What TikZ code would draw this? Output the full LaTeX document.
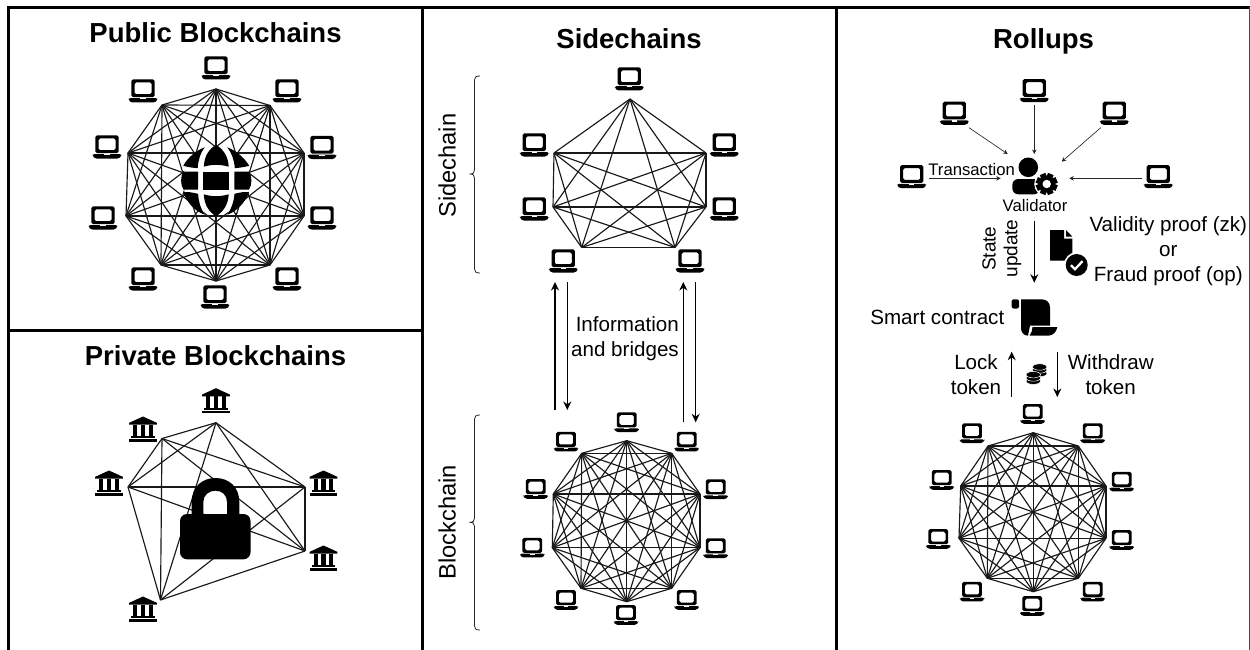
\documentclass[tikz,border=0pt]{standalone}
\usepackage{fontspec}
\setmainfont{Liberation Sans}
\usetikzlibrary{arrows.meta}
\tikzset{
  x=1pt,y=-1pt,
  frameline/.style={line width=3pt,black},
  edgeline/.style={line width=1.15pt,black!90},
  bracel/.style={line width=0.8pt,black!85},
  bigarrow/.style={line width=1.25pt,-{Stealth[length=8.5pt,width=8pt]}},
  thinarrow/.style={line width=0.65pt,black!85,-{Stealth[length=4.5pt,width=4.5pt]}},
  titletext/.style={inner sep=0,anchor=base,font=\fontsize{27.5}{30}\selectfont\bfseries},
  sidetext/.style={inner sep=0,anchor=base,rotate=90,font=\fontsize{23.7}{26}\selectfont},
  labeltext/.style={inner sep=0,font=\fontsize{20.6}{25.2}\selectfont,align=center},
  smalltext/.style={inner sep=0,anchor=base,font=\fontsize{16.7}{19}\selectfont},
  gap/.style={fill=black},
  laptop/.pic={
    \fill[even odd rule,rounded corners=1.6pt]
      (-11.6,-11.6) rectangle (11.6,6.1)
      (-8.5,-8.6) rectangle (8.5,3.2);
    \fill[rounded corners=1.5pt] (-14.4,7.1) -- (14.4,7.1) -- (14.4,9) -- (12,11.5) -- (-12,11.5) -- (-14.4,9) -- cycle;
    \fill[white] (-2.6,7.1) rectangle (2.6,8.3);
  },
  bank/.pic={
    \fill (0,-12.5) -- (13.8,-6.2) -- (13.8,-4.4) -- (-13.8,-4.4) -- (-13.8,-6.2) -- cycle;
    \fill (-9.9,-4.5) rectangle (-5.6,7.2);
    \fill (-2.1,-4.5) rectangle (2.1,7.2);
    \fill (5.6,-4.5) rectangle (9.9,7.2);
    \fill (-11.8,7.2) rectangle (11.8,9);
    \fill (-13.8,10.2) rectangle (13.8,12.5);
  }
}
\newcommand{\kgraph}[2]{%
  \foreach \a in {1,...,#2}{\foreach \b in {1,...,#2}{%
    \ifnum\a<\b \draw[edgeline] (#1\a) -- (#1\b);\fi}}}
\begin{document}
\begin{tikzpicture}
\useasboundingbox (0,0) rectangle (1250,650);
% frames
\coordinate (fa) at (8.7,7.5);
\coordinate (fb) at (1250,7.5);
\coordinate (fc) at (8.7,650);
\coordinate (fd) at (422.5,7.5);
\coordinate (fe) at (422.5,650);
\coordinate (ff) at (836,7.5);
\coordinate (fg) at (836,650);
\coordinate (fh) at (8.7,330);
\coordinate (fi) at (422.5,330);
\coordinate (fj) at (1250,650);
\draw[frameline] (fc) -- (fa) -- (fb);
\draw[frameline] (fd) -- (fe);
\draw[frameline] (ff) -- (fg);
\draw[frameline] (fh) -- (fi);
\draw[line width=1.6pt,black!70] (fb) -- (fj);

% titles
\node[titletext] (t1) at (215.5,42.5) {Public Blockchains};
\node[titletext] (t2) at (215.5,365) {Private Blockchains};
\node[titletext] (t3) at (629,48.3) {Sidechains};
\node[titletext] (t4) at (1043.5,48.3) {Rollups};

% ---- public
\foreach \n/\x/\y in {1/216/89,2/270/105.5,3/304/153,4/304/216,5/270/265,6/216/281,7/161/265,8/126/216,9/128/153,10/162/105}
  \coordinate (pa\n) at (\x,\y);
\kgraph{pa}{10}
\foreach \x/\y in {216/68,287/91,322/147.5,322/218,287/279,215/297,143/279,103/218,107/147,143/91}
  \pic at (\x,\y) {laptop};
% globe
\fill[white] (216.3,180.5) circle (33.5);
\fill[gap] (203.3,171.5) rectangle (229.3,189.5);
\fill[gap] (198.2,171.5) -- (183.5,171.5) .. controls (180.3,176) and (180.3,185) .. (183.5,189.5) -- (198.2,189.5) -- cycle;
\fill[gap] (234.4,171.5) -- (249,171.5) .. controls (252.2,176) and (252.2,185) .. (249,189.5) -- (234.4,189.5) -- cycle;
\fill[gap] (203.8,166.7) .. controls (204.3,156) and (209,149) .. (216,144.8) .. controls (223,149) and (228.2,156) .. (228.7,166.7) .. controls (220,164.2) and (212,164.2) .. (203.8,166.7) -- cycle;
\fill[gap] (203.8,194.3) .. controls (212,196.8) and (220,196.8) .. (228.7,194.3) .. controls (228.2,205) and (223,212) .. (216,216.2) .. controls (209,212) and (204.3,205) .. (203.8,194.3) -- cycle;
\fill[gap] (204.7,147.3) .. controls (196,150.5) and (187.3,158) .. (183.3,165.8) .. controls (188,167.2) and (193,167.8) .. (197.7,168.2) .. controls (198.2,160) and (200.3,153) .. (204.7,147.3) -- cycle;
\fill[gap] (227.3,147.3) .. controls (236,150.5) and (244.7,158) .. (249.2,165.8) .. controls (244,167.2) and (239,167.8) .. (234.8,168.2) .. controls (234.3,160) and (231.7,153) .. (227.3,147.3) -- cycle;
\fill[gap] (183.3,192.3) .. controls (188,191.3) and (193,192.8) .. (198.1,193.8) .. controls (198.7,202) and (200.3,208) .. (204.7,214.7) .. controls (195,211.3) and (187.3,203) .. (183.3,192.3) -- cycle;
\fill[gap] (249.2,192.3) .. controls (244,191.3) and (239,192.8) .. (234.5,193.8) .. controls (233.8,202) and (231.7,208) .. (227.3,214.7) .. controls (237,211.3) and (244.7,203) .. (249.2,192.3) -- cycle;

% ---- private
\foreach \n/\x/\y in {1/216/422.7,2/162/438.5,3/128/487,4/305/487,5/305/551,6/160.5/600}
  \coordinate (pr\n) at (\x,\y);
\kgraph{pr}{6}
\foreach \x/\y in {216/400.7,143/429,109/483,323.5/483,323.5/558,143/609}
  \pic at (\x,\y) {bank};
\fill[even odd rule] (191.7,516) -- (191.7,502) .. controls (191.7,487) and (202,478) .. (215.5,478) .. controls (229,478) and (239.3,487) .. (239.3,502) -- (239.3,516) -- (227,516) -- (227,502) .. controls (227,495) and (222,490.7) .. (215.5,490.7) .. controls (209,490.7) and (203.3,495) .. (203.3,502) -- (203.3,516) -- cycle;
\fill[rounded corners=7pt] (180,514) rectangle (250.5,559.3);

% ---- sidechain
\foreach \n/\x/\y in {1/630/99,2/706/153,3/706/207,4/675/247.5,5/581.7/247.5,6/553/207,7/554/153}
  \coordinate (sc\n) at (\x,\y);
\kgraph{sc}{7}
\foreach \x/\y in {629.3/79,534.3/145,724.3/145,534.3/209,724.3/209,563.3/261,690/261}
  \pic at (\x,\y) {laptop};
\coordinate (b1a) at (480,76);
\coordinate (b1b) at (480,273);
\draw[bracel] (b1a) .. controls (476,76) and (474.5,77) .. (474.5,80) -- (474.5,170) .. controls (474.5,173) and (473,174) .. (469.5,174) .. controls (473,174) and (474.5,175) .. (474.5,178) -- (474.5,269) .. controls (474.5,272) and (476,273) .. (b1b);
\node[sidetext] (sl1) at (455.7,165.7) {Sidechain};

% ---- blockchain below
\foreach \n/\x/\y in {1/626.7/440.7,2/671.7/453.3,3/700/494,4/700/547.7,5/671.7/588.3,6/626.7/601.7,7/581/588.3,8/552.3/547.7,9/553.3/494,10/581.7/453.3}
  \coordinate (bc\n) at (\x,\y);
\kgraph{bc}{10}
\foreach \x/\y in {626.7/422.3,686.7/441.7,715.7/489.3,715.7/548.3,686.7/600,626/615,566/600,532.3/547.7,535.7/489,566/441.7}
  \pic[scale=0.85] at (\x,\y) {laptop};
\coordinate (b2a) at (480,415);
\coordinate (b2b) at (480,630);
\draw[bracel] (b2a) .. controls (476,415) and (474.5,416) .. (474.5,419) -- (474.5,518.3) .. controls (474.5,521.3) and (473,522.3) .. (469.5,522.3) .. controls (473,522.3) and (474.5,523.3) .. (474.5,526.3) -- (474.5,626) .. controls (474.5,629) and (476,630) .. (b2b);
\node[sidetext] (sl2) at (455.7,522.4) {Blockchain};

% bridges
\coordinate (ua0) at (555,410);   \coordinate (ua1) at (555,282);
\coordinate (da0) at (567.3,282); \coordinate (da1) at (567.3,410);
\coordinate (ub0) at (683.3,422.3); \coordinate (ub1) at (683.3,282);
\coordinate (db0) at (695.7,282); \coordinate (db1) at (695.7,422.3);
\draw[bigarrow] (ua0) -- (ua1);
\draw[bigarrow] (da0) -- (da1);
\draw[bigarrow] (ub0) -- (ub1);
\draw[bigarrow] (db0) -- (db1);
\node[labeltext,align=right,anchor=east] (info) at (679,338.5) {Information\\and bridges};

% ---- rollups top
\foreach \x/\y/\n in {1034.3/90.7/rt,954.3/113.3/rul,1114.3/113.3/rur,911.7/176.7/rl,1158.3/176.7/rr}
  \pic at (\x,\y) {laptop};
\coordinate (ra0) at (969,127.7);      \coordinate (ra1) at (1007.7,154);
\coordinate (rb0) at (1034.3,105);     \coordinate (rb1) at (1034.3,154);
\coordinate (rc0) at (1100.7,127.7);   \coordinate (rc1) at (1061.7,161.7);
\coordinate (rd0) at (929,178.3);      \coordinate (rd1) at (1000.7,178.3);
\coordinate (re0) at (1141.7,178.3);   \coordinate (re1) at (1069.3,178.3);
\draw[thinarrow] (ra0) -- (ra1);
\draw[thinarrow] (rb0) -- (rb1);
\draw[thinarrow] (rc0) -- (rc1);
\draw[thinarrow] (rd0) -- (rd1);
\draw[thinarrow] (re0) -- (re1);
\node[smalltext] (tx) at (971.7,175.7) {Transaction};
% validator icon
\fill (1028.3,167.3) circle (9.8);
\fill[rounded corners=6pt] (1012.3,194.3) -- (1012.3,179) -- (1040,179) -- (1040,194.3) -- cycle;
\fill[white] (1046.7,184) circle (12.5);
\foreach \a in {0,45,...,135}{
  \begin{scope}[shift={(1046.7,184)},rotate=\a+22.5]
    \fill (-3,-10.8) rectangle (3,10.8);
  \end{scope}
}
\fill (1046.7,184) circle (8.4);
\fill[white] (1046.7,184) circle (4.2);
\node[smalltext] (val) at (1035,211.7) {Validator};

\coordinate (su0) at (1034.3,220.7); \coordinate (su1) at (1034.3,282.7);
\draw[bigarrow] (su0) -- (su1);
\node[sidetext,font=\fontsize{19}{22}\selectfont] (st) at (995.7,248.7) {State};
\node[sidetext,font=\fontsize{19}{22}\selectfont] (up) at (1017.3,248.5) {update};
% document icon
\fill (1050,230) -- (1064,230) -- (1064,238.6) -- (1072.3,238.6) -- (1072.3,260.7) -- (1050,260.7) -- cycle;
\fill (1066,230) -- (1072.3,236.6) -- (1066,236.6) -- cycle;
\fill[white] (1076.7,265) circle (12.8);
\fill (1076.7,265) circle (11);
\draw[white,line width=2.3pt] (1071,265.2) -- (1075,269.2) -- (1082.5,261.2);
\node[labeltext] (proof) at (1168.3,251) {Validity proof (zk)\\or\\Fraud proof (op)};

% smart contract
\node[labeltext,anchor=base] (sm) at (937.3,324.3) {Smart contract};
\fill[rounded corners=2pt] (1011.7,299.3) rectangle (1019,308.5);
\fill (1021,299.3) -- (1041.7,299.3) .. controls (1047,299.3) and (1050,303) .. (1050,307.5) -- (1050,325.5) -- (1030,325.5) -- (1028,335.7) .. controls (1023.5,335.7) and (1021,332) .. (1021,328) -- cycle;
\fill (1032.5,327.2) -- (1057.3,327.2) .. controls (1056.5,332) and (1053,335.7) .. (1048,335.7) -- (1029.5,335.7) .. controls (1031.5,333) and (1032.5,330) .. (1032.5,327.2) -- cycle;

% lock / withdraw
\coordinate (lk0) at (1011.7,396.7); \coordinate (lk1) at (1011.7,351.7);
\coordinate (wd0) at (1057.3,351.7); \coordinate (wd1) at (1057.3,397);
\draw[bigarrow] (lk0) -- (lk1);
\draw[bigarrow] (wd0) -- (wd1);
\node[labeltext] (lock) at (976,374.5) {Lock\\token};
\node[labeltext] (wdr) at (1110.7,374.5) {Withdraw\\token};
% coins
\foreach \x/\y in {1039.7/373.5,1039.7/370,1039.7/367,1033.3/381.2,1033.3/378,1033.3/374.7}
  \fill[draw=white,line width=0.5pt] (\x,\y) ellipse (7.2 and 3.2);

% ---- rollups bottom
\foreach \n/\x/\y in {1/1033.3/432.7,2/1078.3/446,3/1106/486,4/1106/538.3,5/1078.3/578.3,6/1033.3/591.7,7/987.3/578.3,8/959/538.3,9/960.7/486,10/988/446}
  \coordinate (rb\n) at (\x,\y);
\kgraph{rb}{10}
\foreach \x/\y in {1032.7/414,1092.7/433.3,1121.7/481.7,1121.7/540,1092.7/591.7,1032.3/606,972/591.7,938.3/539,941.7/480,972/433.3}
  \pic[scale=0.85] at (\x,\y) {laptop};
\end{tikzpicture}
\end{document}
